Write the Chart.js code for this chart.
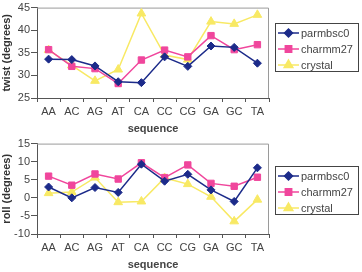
<!DOCTYPE html>
<html><head><meta charset="utf-8">
<script src="https://cdn.jsdelivr.net/npm/chart.js@4/dist/chart.umd.min.js"></script>
<style>
html,body{margin:0;padding:0;background:#fff;}
canvas{display:block;}
.w{position:relative;width:362px;height:136px;}
</style></head><body>
<div class="w"><canvas id="c1" width="362" height="136"></canvas></div>
<div class="w"><canvas id="c2" width="362" height="136"></canvas></div>
<script>
const categories = ["AA","AC","AG","AT","CA","CC","CG","GA","GC","TA"];
const seriesNames = ["parmbsc0","charmm27","crystal"];
const twistParmbsc0 = [33.6,33.5,32.1,28.6,28.4,34.1,32.0,36.5,36.2,32.7];
const twistCharmm27 = [35.7,32.0,31.5,28.2,33.4,35.6,34.1,38.8,35.7,36.8];
const twistCrystal  = [35.6,32.2,28.8,31.3,43.7,34.5,33.5,41.9,41.4,43.4];
const rollParmbsc0 = [3.0,0.0,2.85,1.5,9.3,4.6,6.5,2.2,-1.0,8.3];
const rollCharmm27 = [6.0,3.5,6.6,5.2,9.7,5.6,9.1,4.0,3.2,5.7];
const rollCrystal  = [1.3,1.6,5.6,-1.2,-1.0,5.5,3.8,0.3,-6.5,-0.5];
const twistTicks = {min:25,max:45,step:5};
const rollTicks = {min:-10,max:15,step:5};

const colors = ["#1c2b8a","#f0469c","#f8e964"];
const styles = ["rectRot","rect","triangle"];
const radii = [4,4.5,5];
const FONT = "'Liberation Sans', Arial, sans-serif";

function datasets(arrs){
  return arrs.map((d,i)=>({
    label: seriesNames[i], data: d,
    borderColor: colors[i], backgroundColor: colors[i],
    pointStyle: styles[i], pointRadius: radii[i], pointHoverRadius: radii[i],
    borderWidth: 1.5, pointBorderWidth: 1, tension: 0
  }));
}

const frame = {
  id:'frame',
  beforeDatasetsDraw(chart){
    const a = chart.chartArea, ctx = chart.ctx;
    ctx.save();
    ctx.strokeStyle = '#9a9a9a'; ctx.lineWidth = 1;
    ctx.beginPath();
    ctx.moveTo(a.left, a.top+0.5); ctx.lineTo(a.right-0.5, a.top+0.5); ctx.lineTo(a.right-0.5, a.bottom);
    ctx.stroke();
    ctx.restore();
  },
  afterDraw(chart){
    const o = chart.options.plugins.frame;
    const ctx = chart.ctx;
    ctx.save();
    ctx.strokeStyle = '#444'; ctx.lineWidth = 1;
    ctx.strokeRect(o.x+0.5, o.y+0.5, o.w, o.h);
    ctx.font = "11px " + FONT;
    ctx.textBaseline = 'middle';
    chart.data.datasets.forEach((ds,i)=>{
      const y = o.y + 10 + i*16;
      ctx.strokeStyle = ds.borderColor; ctx.lineWidth = 1.5;
      ctx.beginPath(); ctx.moveTo(o.x+3, y); ctx.lineTo(o.x+24, y); ctx.stroke();
      ctx.fillStyle = ds.borderColor; ctx.strokeStyle = ds.borderColor;
      Chart.helpers.drawPoint(ctx, {pointStyle: ds.pointStyle, radius: ds.pointRadius, borderWidth:1}, o.x+13.5, y);
      ctx.fillStyle = '#444';
      ctx.fillText(ds.label, o.x+26, y+0.5);
    });
    ctx.restore();
  }
};

function make(id, arrs, ticks, ytitle, legendY){
  new Chart(document.getElementById(id), {
    type:'line',
    data:{labels:categories, datasets:datasets(arrs)},
    options:{
      responsive:false, animation:false, events:[],
      layout:{padding:{top:7,right:93,left:0,bottom:0}},
      plugins:{legend:{display:false}, tooltip:{enabled:false},
        frame:{x:275,y:legendY,w:83,h:48}},
      scales:{
        x:{
          offset:true,
          grid:{display:true, drawOnChartArea:false, offset:true, tickLength:4, color:'#555'},
          border:{color:'#555', width:1},
          ticks:{color:'#444', font:{family:FONT,size:11}, padding:3, maxRotation:0, autoSkip:false},
          title:{display:true, text:'sequence', color:'#444', font:{family:FONT,size:11,weight:'bold'}, padding:{top:1,bottom:0}},
          afterFit(s){ s.height = 38; }
        },
        y:{
          min:ticks.min, max:ticks.max,
          grid:{display:true, drawOnChartArea:false, tickLength:6, color:'#555'},
          border:{color:'#555', width:1},
          ticks:{stepSize:ticks.step, color:'#444', font:{family:FONT,size:11}, padding:1},
          title:{display:true, text:ytitle, color:'#333', font:{family:FONT,size:11,weight:'bold'}, padding:{top:0,bottom:2}},
          afterFit(s){ s.width = 37; }
        }
      }
    },
    plugins:[frame]
  });
}
make('c1',[twistParmbsc0,twistCharmm27,twistCrystal],twistTicks,'twist (degrees)',23);
make('c2',[rollParmbsc0,rollCharmm27,rollCrystal],rollTicks,'roll (degrees)',30);
</script>
</body></html>
